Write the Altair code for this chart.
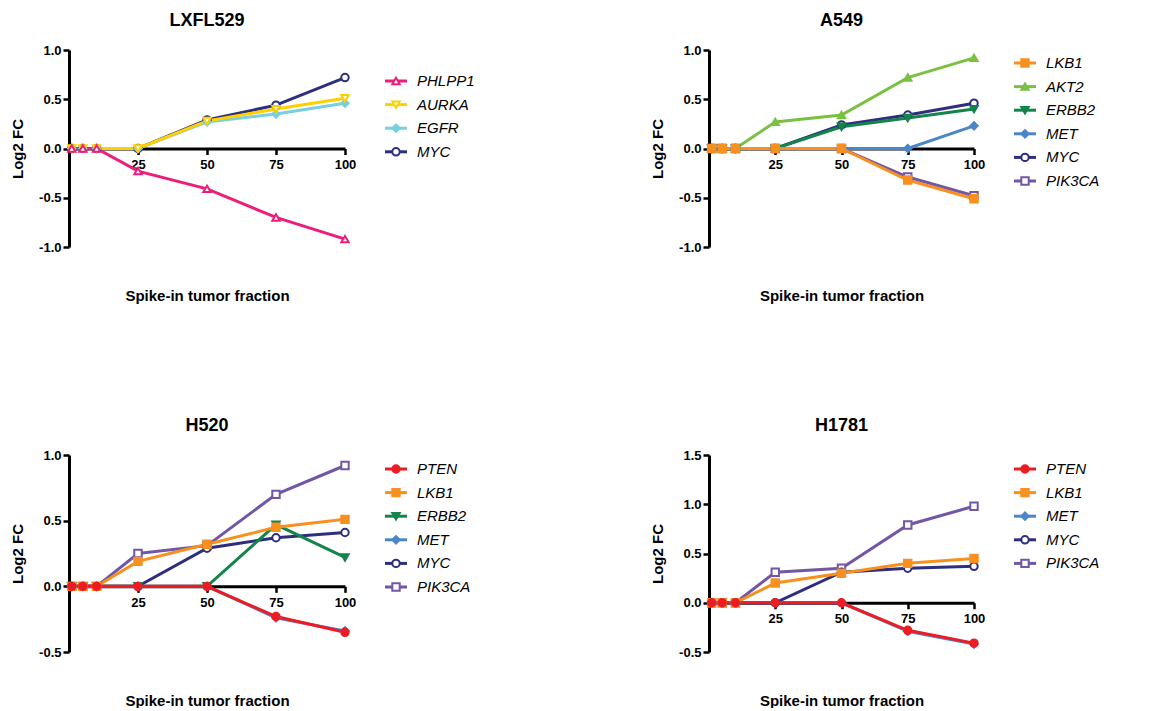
import altair as alt
import pandas as pd

# ---------------- data ----------------
X = [1, 5, 10, 25, 50, 75, 100]

LXFL_GENES = ["PHLPP1", "AURKA", "EGFR", "MYC"]
LXFL_PHLPP1 = [0, 0, 0, -0.23, -0.41, -0.70, -0.92]
LXFL_AURKA = [0, 0, 0, 0, 0.28, 0.40, 0.51]
LXFL_EGFR = [0, 0, 0, 0, 0.27, 0.35, 0.46]
LXFL_MYC = [0, 0, 0, 0, 0.29, 0.44, 0.72]

A549_GENES = ["LKB1", "AKT2", "ERBB2", "MET", "MYC", "PIK3CA"]
A549_LKB1 = [0, 0, 0, 0, 0, -0.32, -0.51]
A549_AKT2 = [0, 0, 0, 0.27, 0.34, 0.72, 0.92]
A549_ERBB2 = [0, 0, 0, 0, 0.22, 0.31, 0.40]
A549_MET = [0, 0, 0, 0, 0, 0, 0.23]
A549_MYC = [0, 0, 0, 0, 0.24, 0.34, 0.46]
A549_PIK3CA = [0, 0, 0, 0, 0, -0.29, -0.48]

H520_GENES = ["PTEN", "LKB1", "ERBB2", "MET", "MYC", "PIK3CA"]
H520_PTEN = [0, 0, 0, 0, 0, -0.23, -0.35]
H520_LKB1 = [0, 0, 0, 0.19, 0.32, 0.45, 0.51]
H520_ERBB2 = [0, 0, 0, 0, 0, 0.47, 0.22]
H520_MET = [0, 0, 0, 0, 0, -0.24, -0.34]
H520_MYC = [0, 0, 0, 0, 0.29, 0.37, 0.41]
H520_PIK3CA = [0, 0, 0, 0.25, 0.31, 0.70, 0.92]

H1781_GENES = ["PTEN", "LKB1", "MET", "MYC", "PIK3CA"]
H1781_PTEN = [0, 0, 0, 0, 0, -0.28, -0.41]
H1781_LKB1 = [0, 0, 0, 0.20, 0.30, 0.40, 0.45]
H1781_MET = [0, 0, 0, 0, 0, -0.29, -0.42]
H1781_MYC = [0, 0, 0, 0, 0.31, 0.35, 0.37]
H1781_PIK3CA = [0, 0, 0, 0.31, 0.35, 0.79, 0.98]

# ---------------- styles ----------------
COLORS = {
    "PHLPP1": "#EC1E79", "AURKA": "#FFD000", "EGFR": "#77CFE0", "MYC": "#2D2F7E",
    "LKB1": "#F7901E", "AKT2": "#7AC143", "ERBB2": "#13854A", "MET": "#4A86C8",
    "PIK3CA": "#7157A6", "PTEN": "#ED1C24",
}
SHAPES = {
    "PHLPP1": "triangle-up", "AURKA": "triangle-down", "EGFR": "diamond", "MYC": "circle",
    "LKB1": "square", "AKT2": "triangle-up", "ERBB2": "triangle-down", "MET": "diamond",
    "PIK3CA": "square", "PTEN": "circle",
}
OPEN = {"PHLPP1", "AURKA", "MYC", "PIK3CA"}
SIZES = {"MET": 28}
FONT = "Liberation Sans"
W_LEFT, W_RIGHT, H = 276, 265, 197
LEG_STEP = 23.6


def panel(title, genes, series, ydom, yvals, w, h, leg_top):
    rows = []
    for g in reversed(genes):
        for xv, v in zip(X, series[g]):
            rows.append({"gene": g, "frac": xv, "fc": v})
    df = pd.DataFrame(rows)
    zero_px = h * ydom[1] / (ydom[1] - ydom[0])

    stroke = alt.Stroke("gene:N", scale=alt.Scale(domain=genes, range=[COLORS[g] for g in genes]), legend=None)
    fill = alt.Fill("gene:N", scale=alt.Scale(domain=genes, range=["white" if g in OPEN else COLORS[g] for g in genes]), legend=None)
    shape = alt.Shape("gene:N", scale=alt.Scale(domain=genes, range=[SHAPES[g] for g in genes]), legend=None)
    size = alt.Size("gene:N", scale=alt.Scale(domain=genes, range=[SIZES.get(g, 55) for g in genes]), legend=None)

    xenc = alt.X(
        "frac:Q",
        scale=alt.Scale(domain=[0, 100], nice=False, zero=False),
        axis=alt.Axis(
            values=[25, 50, 75, 100], format="d", offset=zero_px - h,
            title="Spike-in tumor fraction", titleX=w / 2, titleY=h + 48 - zero_px,
            titleBaseline="middle", titleAlign="center",
        ),
    )
    yenc = alt.Y(
        "fc:Q",
        scale=alt.Scale(domain=ydom, nice=False, zero=False),
        axis=alt.Axis(
            values=yvals, title="Log2 FC", titlePadding=13,
            labelExpr="(datum.value < 0 ? '-' : '') + format(abs(datum.value), '.1f')",
        ),
    )
    base = alt.Chart(df)
    lines = base.mark_line(strokeWidth=3).encode(x=xenc, y=yenc, stroke=stroke, detail="gene:N")
    pts = base.mark_point(opacity=1, strokeWidth=2).encode(x=xenc, y=yenc, stroke=stroke, fill=fill, shape=shape, size=size)
    data_layer = alt.layer(lines, pts)

    leg = pd.DataFrame({"gene": genes})
    ly = alt.Y(
        "gene:N", sort=genes, axis=None,
        scale=alt.Scale(type="point", domain=genes, padding=0,
                        range=[leg_top, leg_top + LEG_STEP * (len(genes) - 1)]),
    )
    lb = alt.Chart(leg)
    lrule = lb.mark_rule(strokeWidth=3).encode(y=ly, x=alt.value(w + 40), x2=alt.value(w + 62), stroke=stroke)
    lpts = lb.mark_point(opacity=1, strokeWidth=2).encode(y=ly, x=alt.value(w + 51), stroke=stroke, fill=fill, shape=shape, size=size)
    ltxt = lb.mark_text(align="left", baseline="middle", font=FONT, fontSize=15, fontStyle="italic", color="black").encode(
        y=ly, x=alt.value(w + 72), text="gene:N")
    legend_layer = alt.layer(lrule, lpts, ltxt)

    return alt.layer(data_layer, legend_layer).resolve_scale(y="independent").properties(
        width=w, height=h,
        title=alt.TitleParams(title, fontSize=18, font=FONT, fontWeight="bold", anchor="middle",
                              frame="group", offset=14, color="black"),
    )


p1 = panel("LXFL529", LXFL_GENES,
           {"PHLPP1": LXFL_PHLPP1, "AURKA": LXFL_AURKA, "EGFR": LXFL_EGFR, "MYC": LXFL_MYC},
           [-1, 1], [-1, -0.5, 0, 0.5, 1], W_LEFT, H, 31)
p2 = panel("A549", A549_GENES,
           {"LKB1": A549_LKB1, "AKT2": A549_AKT2, "ERBB2": A549_ERBB2, "MET": A549_MET,
            "MYC": A549_MYC, "PIK3CA": A549_PIK3CA},
           [-1, 1], [-1, -0.5, 0, 0.5, 1], W_RIGHT, H, 13)
p3 = panel("H520", H520_GENES,
           {"PTEN": H520_PTEN, "LKB1": H520_LKB1, "ERBB2": H520_ERBB2, "MET": H520_MET,
            "MYC": H520_MYC, "PIK3CA": H520_PIK3CA},
           [-0.5, 1], [-0.5, 0, 0.5, 1], W_LEFT, H, 14)
p4 = panel("H1781", H1781_GENES,
           {"PTEN": H1781_PTEN, "LKB1": H1781_LKB1, "MET": H1781_MET, "MYC": H1781_MYC,
            "PIK3CA": H1781_PIK3CA},
           [-0.5, 1.5], [-0.5, 0, 0.5, 1, 1.5], W_RIGHT, H, 14)

chart = (
    alt.concat(p1, p2, p3, p4, columns=2, spacing={"row": 208, "column": 364}, bounds="flush")
    .resolve_scale(x="independent", y="independent", stroke="independent", fill="independent",
                   shape="independent", size="independent")
    .properties(padding={"left": 2, "top": 4, "right": 5, "bottom": 0})
    .configure_view(stroke=None)
    .configure_axis(
        grid=False, domainColor="black", domainWidth=3, tickColor="black", tickWidth=2.5,
        tickSize=6, labelPadding=2, labelFont=FONT, labelFontSize=13, labelFontWeight="bold",
        labelColor="black", titleFont=FONT, titleFontSize=15, titleFontWeight="bold",
        titleColor="black", labelFlush=False, labelOverlap=False,
    )
    .configure_axisX(labelPadding=4)
)

chart.save("out.html", embed_options={"renderer": "svg", "actions": False})
